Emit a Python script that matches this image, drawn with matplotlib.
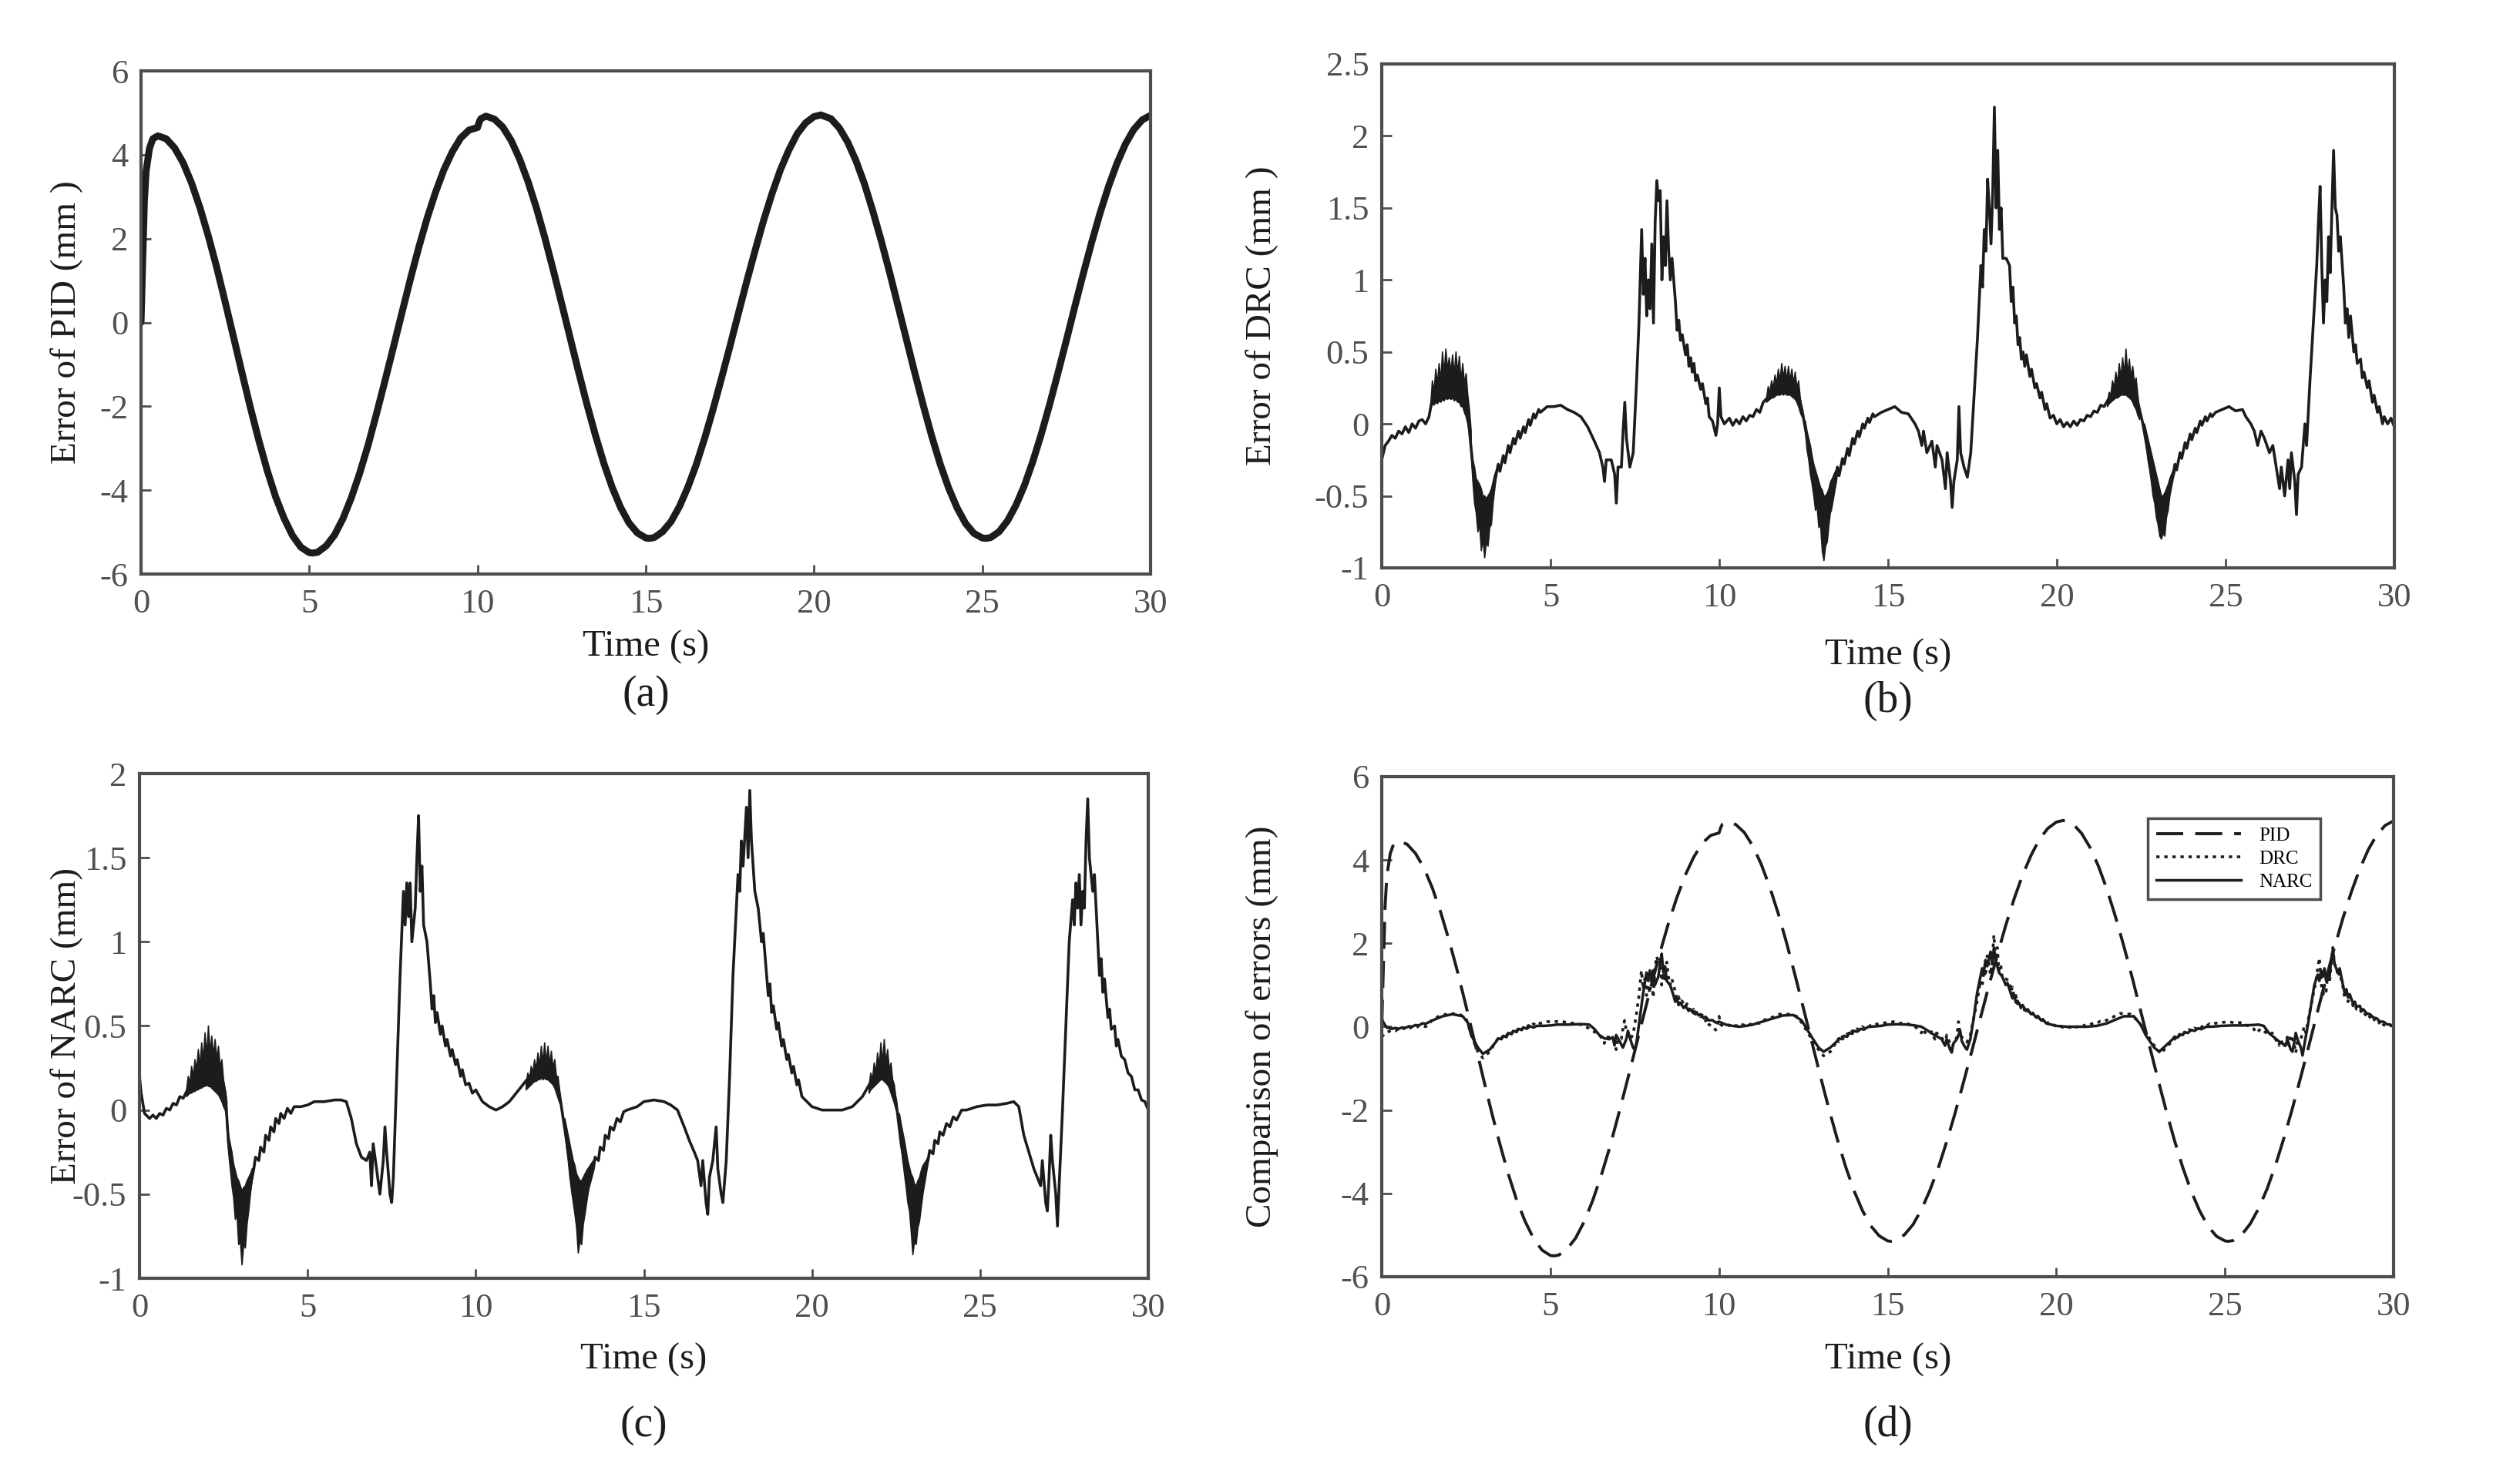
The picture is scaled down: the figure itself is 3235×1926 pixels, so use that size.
import matplotlib
matplotlib.use("Agg")
import matplotlib.pyplot as plt
import numpy as np

plt.rcParams["font.family"] = ["Liberation Serif", "DejaVu Serif"]
plt.rcParams["axes.unicode_minus"] = False

W, H = 3235, 1926

# ---- PID tracking error (mm) ----
pid_pts = [
    (0, 0), (0.05, 1.5), (0.1, 2.9), (0.15, 3.6), (0.25, 4.15), (0.35, 4.38), (0.5, 4.45),
    (0.75, 4.38), (1.0, 4.16), (1.25, 3.81), (1.5, 3.33), (1.75, 2.74), (2.0, 2.06),
    (2.25, 1.31), (2.5, 0.49), (2.75, -0.35), (3.0, -1.20), (3.25, -2.03), (3.5, -2.81),
    (3.75, -3.53), (4.0, -4.16), (4.25, -4.67), (4.5, -5.08), (4.75, -5.36), (5.0, -5.49),
    (5.1, -5.5), (5.25, -5.48), (5.5, -5.33), (5.75, -5.07), (6.0, -4.68), (6.25, -4.18),
    (6.5, -3.59), (6.75, -2.92), (7.0, -2.17), (7.25, -1.39), (7.5, -0.59), (7.75, 0.22),
    (8.0, 1.02), (8.25, 1.78), (8.5, 2.48), (8.75, 3.10), (9.0, 3.64), (9.25, 4.07),
    (9.5, 4.40), (9.75, 4.59), (10.0, 4.65), (10.05, 4.78), (10.1, 4.86), (10.25, 4.92),
    (10.5, 4.85), (10.75, 4.66), (11.0, 4.34), (11.25, 3.90), (11.5, 3.36), (11.75, 2.73),
    (12.0, 2.02), (12.25, 1.25), (12.5, 0.45), (12.75, -0.36), (13.0, -1.17), (13.25, -1.95),
    (13.5, -2.68), (13.75, -3.35), (14.0, -3.93), (14.25, -4.41), (14.5, -4.78), (14.75, -5.02),
    (15.0, -5.14), (15.1, -5.15), (15.25, -5.13), (15.5, -4.99), (15.75, -4.75), (16.0, -4.39),
    (16.25, -3.93), (16.5, -3.39), (16.75, -2.76), (17.0, -2.07), (17.25, -1.33), (17.5, -0.57),
    (17.75, 0.21), (18.0, 0.98), (18.25, 1.72), (18.5, 2.43), (18.75, 3.07), (19.0, 3.64),
    (19.25, 4.11), (19.5, 4.50), (19.75, 4.76), (20.0, 4.91), (20.2, 4.95), (20.5, 4.86),
    (20.75, 4.64), (21.0, 4.30), (21.25, 3.85), (21.5, 3.30), (21.75, 2.65), (22.0, 1.94),
    (22.25, 1.18), (22.5, 0.38), (22.75, -0.42), (23.0, -1.22), (23.25, -1.99), (23.5, -2.72),
    (23.75, -3.38), (24.0, -3.95), (24.25, -4.42), (24.5, -4.79), (24.75, -5.03), (25.0, -5.14),
    (25.1, -5.15), (25.25, -5.13), (25.5, -4.99), (25.75, -4.73), (26.0, -4.36), (26.25, -3.89),
    (26.5, -3.32), (26.75, -2.67), (27.0, -1.96), (27.25, -1.20), (27.5, -0.42), (27.75, 0.38),
    (28.0, 1.16), (28.25, 1.91), (28.5, 2.61), (28.75, 3.24), (29.0, 3.79), (29.25, 4.25),
    (29.5, 4.60), (29.75, 4.83), (30.0, 4.94),
]

# ---- DRC tracking error (mm), panel (b) ----
drc_pts = [
    (0, -0.25), (0.1, -0.15), (0.2, -0.12), (0.3, -0.08), (0.4, -0.1), (0.5, -0.05), (0.6, -0.07),
    (0.7, -0.02), (0.8, -0.06), (0.9, 0.0), (1.0, -0.03), (1.1, 0.02), (1.2, 0.03), (1.3, 0.0),
    (1.4, 0.05), (1.5, 0.18), (1.7, 0.25), (2.0, 0.32), (2.3, 0.3), (2.5, 0.2), (2.6, -0.05),
    (2.7, -0.3), (2.85, -0.6), (3.0, -0.75), (3.2, -0.6), (3.35, -0.4), (3.45, -0.28),
    (3.5, -0.33), (3.6, -0.22), (3.65, -0.27), (3.75, -0.15), (3.8, -0.2), (3.9, -0.1),
    (3.95, -0.14), (4.05, -0.05), (4.1, -0.1), (4.2, -0.02), (4.25, -0.06), (4.35, 0.03),
    (4.4, -0.01), (4.5, 0.07), (4.55, 0.04), (4.65, 0.1), (4.7, 0.08), (4.9, 0.12), (5.1, 0.12),
    (5.3, 0.13), (5.5, 0.1), (5.7, 0.08), (5.9, 0.05), (6.1, -0.02), (6.3, -0.12), (6.45, -0.2),
    (6.55, -0.3), (6.6, -0.4), (6.65, -0.25), (6.8, -0.25), (6.9, -0.35), (6.95, -0.55),
    (7.0, -0.3), (7.1, -0.3), (7.15, -0.05), (7.2, 0.15), (7.25, -0.1), (7.35, -0.3),
    (7.45, -0.2), (7.55, 0.3), (7.62, 0.7), (7.7, 1.35), (7.75, 0.9), (7.8, 1.15), (7.85, 0.75),
    (7.9, 1.0), (7.95, 0.8), (8.0, 1.25), (8.05, 0.7), (8.1, 1.4), (8.15, 1.69), (8.2, 1.55),
    (8.25, 1.62), (8.3, 1.0), (8.35, 1.3), (8.4, 1.1), (8.45, 1.55), (8.5, 1.2), (8.55, 1.0),
    (8.6, 1.15), (8.7, 0.85), (8.75, 0.65), (8.8, 0.72), (8.85, 0.58), (8.9, 0.62), (9.0, 0.48),
    (9.05, 0.55), (9.1, 0.4), (9.15, 0.46), (9.2, 0.36), (9.25, 0.42), (9.3, 0.3), (9.35, 0.34),
    (9.45, 0.24), (9.5, 0.28), (9.6, 0.14), (9.65, 0.18), (9.7, 0.05), (9.8, 0.02),
    (9.9, -0.08), (9.95, 0.0), (10.0, 0.25), (10.05, 0.05), (10.15, 0.0), (10.3, 0.04),
    (10.4, -0.01), (10.5, 0.03), (10.6, 0.0), (10.7, 0.05), (10.8, 0.02), (10.9, 0.06),
    (11.0, 0.05), (11.1, 0.1), (11.2, 0.08), (11.3, 0.15), (11.5, 0.2), (11.8, 0.3),
    (12.1, 0.3), (12.3, 0.25), (12.45, 0.1), (12.6, -0.1), (12.75, -0.3), (12.9, -0.5),
    (13.1, -0.7), (13.3, -0.6), (13.45, -0.4), (13.5, -0.3), (13.55, -0.36), (13.65, -0.24),
    (13.7, -0.28), (13.8, -0.17), (13.85, -0.22), (13.95, -0.1), (14.0, -0.14), (14.1, -0.05),
    (14.15, -0.09), (14.25, 0.0), (14.3, -0.03), (14.4, 0.04), (14.45, 0.01), (14.55, 0.07),
    (14.6, 0.05), (14.8, 0.08), (15.0, 0.1), (15.2, 0.12), (15.4, 0.08), (15.6, 0.07),
    (15.8, 0.0), (15.9, -0.05), (16.0, -0.15), (16.05, -0.05), (16.15, -0.2), (16.3, -0.12),
    (16.4, -0.3), (16.45, -0.15), (16.6, -0.25), (16.7, -0.45), (16.75, -0.2), (16.85, -0.4),
    (16.9, -0.58), (16.95, -0.4), (17.05, -0.25), (17.1, 0.12), (17.15, -0.2), (17.25, -0.3),
    (17.35, -0.37), (17.45, -0.2), (17.55, 0.2), (17.65, 0.6), (17.75, 1.1), (17.8, 0.95),
    (17.85, 1.35), (17.9, 1.2), (17.95, 1.7), (18.0, 1.5), (18.05, 1.25), (18.1, 1.6),
    (18.15, 2.2), (18.2, 1.5), (18.25, 1.9), (18.3, 1.35), (18.35, 1.5), (18.4, 1.15),
    (18.5, 1.15), (18.6, 1.1), (18.65, 0.85), (18.7, 0.95), (18.75, 0.7), (18.8, 0.75),
    (18.85, 0.55), (18.9, 0.6), (18.95, 0.45), (19.0, 0.5), (19.05, 0.4), (19.1, 0.48),
    (19.2, 0.33), (19.25, 0.38), (19.35, 0.25), (19.4, 0.28), (19.5, 0.18), (19.55, 0.22),
    (19.65, 0.1), (19.7, 0.14), (19.8, 0.04), (19.9, 0.06), (20.0, 0.0), (20.1, 0.03),
    (20.2, -0.02), (20.3, 0.01), (20.4, -0.02), (20.5, 0.02), (20.6, -0.01), (20.7, 0.03),
    (20.8, 0.02), (20.9, 0.06), (21.0, 0.05), (21.1, 0.09), (21.2, 0.08), (21.3, 0.13),
    (21.4, 0.12), (21.6, 0.2), (21.9, 0.32), (22.2, 0.3), (22.4, 0.15), (22.55, 0.0),
    (22.7, -0.2), (22.9, -0.45), (23.1, -0.65), (23.3, -0.45), (23.45, -0.35), (23.5, -0.28),
    (23.55, -0.32), (23.65, -0.2), (23.7, -0.24), (23.8, -0.13), (23.85, -0.17), (23.95, -0.07),
    (24.0, -0.11), (24.1, -0.03), (24.15, -0.06), (24.25, 0.02), (24.3, -0.01), (24.4, 0.05),
    (24.45, 0.02), (24.55, 0.07), (24.6, 0.05), (24.7, 0.08), (24.9, 0.1), (25.1, 0.12),
    (25.3, 0.09), (25.5, 0.1), (25.6, 0.05), (25.75, 0.0), (25.85, -0.05), (25.95, -0.15),
    (26.05, -0.05), (26.15, -0.1), (26.3, -0.2), (26.4, -0.15), (26.5, -0.3), (26.6, -0.45),
    (26.65, -0.3), (26.75, -0.5), (26.85, -0.25), (26.9, -0.45), (26.95, -0.2), (27.05, -0.4),
    (27.1, -0.63), (27.15, -0.35), (27.25, -0.3), (27.35, 0.0), (27.4, -0.15), (27.5, 0.3),
    (27.6, 0.7), (27.7, 1.1), (27.75, 1.4), (27.8, 1.65), (27.85, 1.1), (27.9, 0.7),
    (27.95, 1.0), (28.0, 0.85), (28.05, 1.3), (28.1, 1.05), (28.15, 1.5), (28.2, 1.9),
    (28.25, 1.5), (28.3, 1.45), (28.35, 1.2), (28.4, 1.3), (28.5, 0.95), (28.55, 0.7),
    (28.6, 0.8), (28.65, 0.6), (28.7, 0.75), (28.8, 0.5), (28.85, 0.55), (28.9, 0.42),
    (29.0, 0.45), (29.05, 0.32), (29.1, 0.36), (29.2, 0.25), (29.25, 0.3), (29.35, 0.15),
    (29.4, 0.2), (29.5, 0.08), (29.55, 0.12), (29.65, 0.0), (29.7, 0.05), (29.8, 0.0),
    (29.9, 0.04), (30.0, -0.02),
]

# dense chatter bands of DRC: (t, low, high); nan rows separate the bands
nan = np.nan
drc_band = [
    (1.45, 0.1, 0.12), (1.5, 0.14, 0.3), (1.55, 0.13, 0.22), (1.6, 0.15, 0.38), (1.65, 0.14, 0.28),
    (1.7, 0.16, 0.42), (1.75, 0.15, 0.3), (1.8, 0.17, 0.5), (1.85, 0.16, 0.35), (1.9, 0.18, 0.52),
    (1.95, 0.17, 0.38), (2.0, 0.18, 0.46), (2.05, 0.17, 0.36), (2.1, 0.18, 0.48), (2.15, 0.16, 0.34),
    (2.2, 0.17, 0.5), (2.25, 0.15, 0.35), (2.3, 0.15, 0.47), (2.35, 0.12, 0.3), (2.4, 0.12, 0.42),
    (2.45, 0.08, 0.28), (2.5, 0.05, 0.35), (2.55, 0.0, 0.2), (2.6, -0.08, 0.1), (2.65, -0.15, -0.05),
    (nan, nan, nan),
    (2.65, -0.2, -0.15), (2.7, -0.4, -0.25), (2.75, -0.55, -0.3), (2.8, -0.62, -0.38),
    (2.85, -0.75, -0.4), (2.9, -0.7, -0.42), (2.95, -0.88, -0.45), (3.0, -0.8, -0.5),
    (3.05, -0.93, -0.5), (3.1, -0.82, -0.52), (3.15, -0.85, -0.5), (3.2, -0.72, -0.48),
    (3.25, -0.7, -0.45), (3.3, -0.55, -0.4), (3.35, -0.45, -0.35), (3.4, -0.35, -0.32),
    (nan, nan, nan),
    (11.4, 0.15, 0.18), (11.45, 0.16, 0.26), (11.5, 0.17, 0.22), (11.55, 0.18, 0.3),
    (11.6, 0.18, 0.25), (11.65, 0.19, 0.34), (11.7, 0.2, 0.28), (11.75, 0.2, 0.38),
    (11.8, 0.2, 0.3), (11.85, 0.21, 0.42), (11.9, 0.2, 0.32), (11.95, 0.21, 0.4), (12.0, 0.2, 0.3),
    (12.05, 0.2, 0.4), (12.1, 0.2, 0.3), (12.15, 0.19, 0.38), (12.2, 0.18, 0.28),
    (12.25, 0.17, 0.36), (12.3, 0.15, 0.25), (12.35, 0.12, 0.3), (12.4, 0.08, 0.18),
    (12.45, 0.05, 0.1),
    (nan, nan, nan),
    (12.55, -0.05, 0.02), (12.6, -0.18, -0.05), (12.65, -0.25, -0.1), (12.7, -0.35, -0.15),
    (12.75, -0.42, -0.22), (12.8, -0.5, -0.28), (12.85, -0.6, -0.32), (12.9, -0.58, -0.36),
    (12.95, -0.72, -0.4), (13.0, -0.7, -0.44), (13.05, -0.88, -0.46), (13.1, -0.95, -0.5),
    (13.15, -0.85, -0.5), (13.2, -0.82, -0.48), (13.25, -0.7, -0.45), (13.3, -0.6, -0.4),
    (13.35, -0.55, -0.38), (13.4, -0.45, -0.35), (13.5, -0.32, -0.3),
    (nan, nan, nan),
    (21.5, 0.12, 0.15), (21.55, 0.14, 0.22), (21.6, 0.15, 0.2), (21.65, 0.16, 0.3),
    (21.7, 0.17, 0.25), (21.75, 0.18, 0.36), (21.8, 0.18, 0.28), (21.85, 0.19, 0.42),
    (21.9, 0.2, 0.32), (21.95, 0.2, 0.46), (22.0, 0.2, 0.34), (22.05, 0.2, 0.52),
    (22.1, 0.19, 0.35), (22.15, 0.18, 0.45), (22.2, 0.17, 0.32), (22.25, 0.15, 0.4),
    (22.3, 0.12, 0.28), (22.35, 0.1, 0.32), (22.4, 0.06, 0.2), (22.45, 0.03, 0.1),
    (nan, nan, nan),
    (22.6, -0.05, 0.0), (22.65, -0.15, -0.05), (22.7, -0.25, -0.1), (22.75, -0.32, -0.15),
    (22.8, -0.4, -0.2), (22.85, -0.5, -0.25), (22.9, -0.55, -0.3), (22.95, -0.65, -0.35),
    (23.0, -0.7, -0.4), (23.05, -0.78, -0.45), (23.1, -0.8, -0.5), (23.15, -0.76, -0.5),
    (23.2, -0.78, -0.48), (23.25, -0.65, -0.45), (23.3, -0.6, -0.42), (23.35, -0.5, -0.38),
    (23.45, -0.38, -0.32), (23.5, -0.33, -0.3),
]

# ---- NARC tracking error (mm), panel (c) ----
narc_pts = [
    (0, 0.2), (0.05, 0.1), (0.15, -0.02), (0.3, -0.05), (0.4, -0.03), (0.5, -0.05), (0.6, -0.02),
    (0.7, -0.03), (0.8, 0.01), (0.9, 0.0), (1.0, 0.04), (1.1, 0.03), (1.2, 0.08), (1.3, 0.07),
    (1.5, 0.15), (1.8, 0.25), (2.1, 0.3), (2.4, 0.25), (2.55, 0.1), (2.65, -0.2), (2.85, -0.5),
    (3.0, -0.65), (3.2, -0.55), (3.4, -0.35), (3.45, -0.28), (3.55, -0.3), (3.6, -0.22),
    (3.7, -0.25), (3.75, -0.15), (3.85, -0.18), (3.9, -0.1), (4.0, -0.13), (4.05, -0.05),
    (4.15, -0.08), (4.2, -0.02), (4.3, -0.05), (4.4, 0.01), (4.5, -0.02), (4.6, 0.02),
    (4.8, 0.02), (5.0, 0.03), (5.2, 0.05), (5.5, 0.05), (5.8, 0.06), (6.0, 0.06), (6.15, 0.05),
    (6.3, -0.05), (6.45, -0.2), (6.6, -0.28), (6.75, -0.3), (6.85, -0.25), (6.9, -0.45),
    (6.95, -0.2), (7.05, -0.35), (7.15, -0.5), (7.25, -0.3), (7.3, -0.1), (7.35, -0.25),
    (7.45, -0.5), (7.5, -0.55), (7.55, -0.4), (7.65, 0.2), (7.75, 0.8), (7.85, 1.3), (7.9, 1.1),
    (7.95, 1.35), (8.0, 1.15), (8.05, 1.35), (8.1, 1.0), (8.2, 1.2), (8.25, 1.5), (8.3, 1.75),
    (8.35, 1.3), (8.4, 1.45), (8.45, 1.1), (8.55, 1.0), (8.65, 0.75), (8.7, 0.6), (8.75, 0.68),
    (8.8, 0.52), (8.85, 0.58), (8.95, 0.45), (9.0, 0.5), (9.1, 0.38), (9.15, 0.42), (9.25, 0.32),
    (9.3, 0.36), (9.4, 0.27), (9.45, 0.3), (9.55, 0.2), (9.6, 0.24), (9.7, 0.15), (9.8, 0.16),
    (9.9, 0.1), (10.0, 0.12), (10.2, 0.05), (10.4, 0.02), (10.6, 0.0), (10.8, 0.02),
    (11.0, 0.05), (11.2, 0.1), (11.4, 0.15), (11.6, 0.2), (11.9, 0.27), (12.2, 0.28),
    (12.45, 0.15), (12.6, -0.05), (12.75, -0.25), (12.95, -0.5), (13.1, -0.6), (13.3, -0.5),
    (13.5, -0.35), (13.55, -0.28), (13.65, -0.3), (13.7, -0.22), (13.8, -0.24), (13.85, -0.15),
    (13.95, -0.17), (14.0, -0.1), (14.1, -0.12), (14.2, -0.05), (14.3, -0.07), (14.4, -0.01),
    (14.5, 0.0), (14.8, 0.02), (15.0, 0.05), (15.3, 0.06), (15.6, 0.05), (15.8, 0.03),
    (16.0, 0.0), (16.2, -0.1), (16.35, -0.18), (16.5, -0.25), (16.6, -0.3), (16.7, -0.45),
    (16.75, -0.3), (16.85, -0.55), (16.9, -0.62), (16.95, -0.4), (17.05, -0.3), (17.15, -0.1),
    (17.2, -0.35), (17.3, -0.5), (17.35, -0.55), (17.45, -0.3), (17.55, 0.2), (17.65, 0.8),
    (17.75, 1.2), (17.8, 1.4), (17.85, 1.3), (17.9, 1.6), (17.95, 1.45), (18.05, 1.8),
    (18.1, 1.5), (18.15, 1.9), (18.2, 1.6), (18.3, 1.3), (18.4, 1.2), (18.5, 1.0),
    (18.55, 1.05), (18.65, 0.8), (18.7, 0.68), (18.75, 0.75), (18.8, 0.58), (18.85, 0.62),
    (18.95, 0.48), (19.0, 0.52), (19.1, 0.38), (19.15, 0.42), (19.25, 0.3), (19.3, 0.33),
    (19.4, 0.22), (19.45, 0.26), (19.55, 0.15), (19.6, 0.18), (19.7, 0.08), (19.8, 0.06),
    (20.0, 0.02), (20.3, 0.0), (20.6, 0.0), (20.9, 0.0), (21.2, 0.02), (21.5, 0.08),
    (21.7, 0.15), (22.0, 0.25), (22.3, 0.25), (22.5, 0.05), (22.65, -0.2), (22.9, -0.5),
    (23.05, -0.6), (23.25, -0.45), (23.45, -0.3), (23.5, -0.24), (23.6, -0.26), (23.65, -0.18),
    (23.75, -0.2), (23.8, -0.13), (23.9, -0.15), (24.0, -0.08), (24.1, -0.1), (24.2, -0.04),
    (24.3, -0.06), (24.45, 0.0), (24.6, 0.0), (24.9, 0.02), (25.2, 0.03), (25.5, 0.03),
    (25.8, 0.04), (26.0, 0.05), (26.15, 0.02), (26.3, -0.15), (26.45, -0.25), (26.6, -0.35),
    (26.7, -0.4), (26.8, -0.45), (26.85, -0.3), (26.95, -0.55), (27.0, -0.6), (27.05, -0.4),
    (27.1, -0.15), (27.15, -0.3), (27.25, -0.5), (27.3, -0.69), (27.35, -0.45), (27.45, 0.0),
    (27.55, 0.5), (27.65, 1.0), (27.75, 1.25), (27.8, 1.1), (27.85, 1.35), (27.9, 1.2),
    (27.95, 1.4), (28.0, 1.1), (28.05, 1.3), (28.1, 1.2), (28.15, 1.6), (28.2, 1.85),
    (28.25, 1.5), (28.35, 1.3), (28.4, 1.4), (28.5, 1.0), (28.55, 0.8), (28.6, 0.9),
    (28.65, 0.7), (28.7, 0.78), (28.8, 0.55), (28.85, 0.6), (28.9, 0.48), (29.0, 0.5),
    (29.05, 0.38), (29.1, 0.42), (29.2, 0.32), (29.3, 0.3), (29.4, 0.22), (29.5, 0.2),
    (29.6, 0.12), (29.7, 0.12), (29.8, 0.06), (29.9, 0.05), (30.0, 0.0),
]

narc_band = [
    (1.4, 0.08, 0.12), (1.45, 0.09, 0.2), (1.5, 0.1, 0.16), (1.55, 0.1, 0.26), (1.6, 0.11, 0.2),
    (1.65, 0.11, 0.3), (1.7, 0.12, 0.24), (1.75, 0.12, 0.36), (1.8, 0.13, 0.26), (1.85, 0.13, 0.4),
    (1.9, 0.14, 0.3), (1.95, 0.14, 0.46), (2.0, 0.15, 0.32), (2.05, 0.14, 0.5), (2.1, 0.14, 0.34),
    (2.15, 0.13, 0.44), (2.2, 0.12, 0.32), (2.25, 0.11, 0.42), (2.3, 0.1, 0.3), (2.35, 0.09, 0.38),
    (2.4, 0.07, 0.25), (2.45, 0.05, 0.3), (2.5, 0.02, 0.18), (2.55, 0.0, 0.12), (2.6, -0.05, 0.05),
    (nan, nan, nan),
    (2.6, -0.1, -0.08), (2.65, -0.25, -0.15), (2.7, -0.35, -0.2), (2.75, -0.45, -0.25),
    (2.8, -0.52, -0.32), (2.85, -0.65, -0.36), (2.9, -0.62, -0.4), (2.95, -0.8, -0.42),
    (3.0, -0.78, -0.45), (3.05, -0.92, -0.48), (3.1, -0.8, -0.46), (3.15, -0.82, -0.45),
    (3.2, -0.68, -0.42), (3.25, -0.6, -0.4), (3.3, -0.5, -0.38), (3.35, -0.42, -0.35),
    (3.4, -0.36, -0.34),
    (nan, nan, nan),
    (11.5, 0.12, 0.15), (11.55, 0.13, 0.22), (11.6, 0.14, 0.18), (11.65, 0.15, 0.26),
    (11.7, 0.16, 0.22), (11.75, 0.17, 0.3), (11.8, 0.17, 0.24), (11.85, 0.18, 0.34),
    (11.9, 0.18, 0.26), (11.95, 0.19, 0.38), (12.0, 0.18, 0.28), (12.05, 0.19, 0.4),
    (12.1, 0.18, 0.28), (12.15, 0.18, 0.38), (12.2, 0.17, 0.27), (12.25, 0.16, 0.35),
    (12.3, 0.15, 0.25), (12.35, 0.13, 0.3), (12.4, 0.1, 0.2), (12.45, 0.07, 0.2), (12.5, 0.04, 0.1),
    (nan, nan, nan),
    (12.65, -0.12, -0.05), (12.7, -0.22, -0.1), (12.75, -0.3, -0.15), (12.8, -0.4, -0.2),
    (12.85, -0.48, -0.25), (12.9, -0.55, -0.3), (12.95, -0.62, -0.33), (13.0, -0.7, -0.38),
    (13.05, -0.85, -0.4), (13.1, -0.78, -0.42), (13.15, -0.8, -0.42), (13.2, -0.68, -0.4),
    (13.25, -0.62, -0.38), (13.3, -0.55, -0.36), (13.4, -0.42, -0.33), (13.5, -0.33, -0.3),
    (nan, nan, nan),
    (21.7, 0.1, 0.15), (21.75, 0.12, 0.22), (21.8, 0.13, 0.18), (21.85, 0.14, 0.28),
    (21.9, 0.15, 0.22), (21.95, 0.16, 0.34), (22.0, 0.17, 0.26), (22.05, 0.18, 0.4),
    (22.1, 0.18, 0.28), (22.15, 0.17, 0.42), (22.2, 0.16, 0.28), (22.25, 0.15, 0.36),
    (22.3, 0.13, 0.24), (22.35, 0.1, 0.28), (22.4, 0.07, 0.18), (22.45, 0.04, 0.15),
    (22.5, 0.0, 0.06),
    (nan, nan, nan),
    (22.6, -0.1, -0.02), (22.65, -0.2, -0.08), (22.7, -0.3, -0.13), (22.75, -0.38, -0.18),
    (22.8, -0.46, -0.24), (22.85, -0.55, -0.3), (22.9, -0.6, -0.34), (22.95, -0.72, -0.38),
    (23.0, -0.86, -0.4), (23.05, -0.78, -0.44), (23.1, -0.8, -0.45), (23.15, -0.7, -0.42),
    (23.2, -0.66, -0.4), (23.25, -0.58, -0.36), (23.3, -0.5, -0.33), (23.4, -0.38, -0.3),
    (23.45, -0.32, -0.28),
]

x_ticks = [0, 5, 10, 15, 20, 25, 30]
pid_yticks = [-6, -4, -2, 0, 2, 4, 6]
drc_yticks = [-1, -0.5, 0, 0.5, 1, 1.5, 2, 2.5]
narc_yticks = [-1, -0.5, 0, 0.5, 1, 1.5, 2]
legend_labels = ["PID", "DRC", "NARC"]

pid_t, pid_v = np.array(pid_pts).T
drc_t, drc_v = np.array(drc_pts).T
narc_t, narc_v = np.array(narc_pts).T
drc_bt, drc_blo, drc_bhi = np.array(drc_band).T
narc_bt, narc_blo, narc_bhi = np.array(narc_band).T

SPINE = "#4d4d4d"
TICKC = "#505050"
INK = "#1c1c1c"


def px_axes(fig, left, right, top, bottom):
    return fig.add_axes([left / W, (H - bottom) / H, (right - left) / W, (bottom - top) / H])


def style(ax, yticks, ylim):
    ax.set_xlim(0, 30)
    ax.set_ylim(*ylim)
    ax.set_xticks(x_ticks)
    ax.set_yticks(yticks)
    ax.set_xticklabels([f"{v:g}" for v in x_ticks])
    ax.set_yticklabels([f"{v:g}" for v in yticks])
    for s in ax.spines.values():
        s.set_color(SPINE)
        s.set_linewidth(3)
    ax.tick_params(direction="in", length=9, width=2, color=SPINE,
                   labelsize=32, labelcolor=TICKC, top=False, right=False)
    ax.tick_params(axis="x", pad=14)
    ax.tick_params(axis="y", pad=12)


def ftext(x, y, s, size, **kw):
    fig.text(x / W, 1 - y / H, s, fontsize=size, color=INK, ha="center", va="center", **kw)


fig = plt.figure(figsize=(W / 100, H / 100), dpi=100)

# (a)
ax_a = px_axes(fig, 183, 1493, 92, 745)
ax_a.plot(pid_t, pid_v, color=INK, lw=6.5, solid_capstyle="round", solid_joinstyle="round")
style(ax_a, pid_yticks, (-6, 6))
ftext(87, 418, "Error of PID (mm )", 34, rotation=90)
ftext(838, 840, "Time (s)", 35)
ftext(838, 902, "(a)", 40)

# (b)
ax_b = px_axes(fig, 1793, 3107, 83, 737)
ax_b.fill_between(drc_bt, drc_blo, drc_bhi, color=INK, lw=1.2, edgecolor=INK)
ax_b.plot(drc_t, drc_v, color=INK, lw=2.6)
style(ax_b, drc_yticks, (-1, 2.5))
ftext(1638, 410, "Error of DRC (mm )", 34, rotation=90)
ftext(2450, 851, "Time (s)", 35)
ftext(2450, 910, "(b)", 40)

# (c)
ax_c = px_axes(fig, 181, 1490, 1004, 1659)
ax_c.fill_between(narc_bt, narc_blo, narc_bhi, color=INK, lw=1.2, edgecolor=INK)
ax_c.plot(narc_t, narc_v, color=INK, lw=2.6)
style(ax_c, narc_yticks, (-1, 2))
ftext(87, 1331, "Error of NARC (mm)", 34, rotation=90)
ftext(835, 1765, "Time (s)", 35)
ftext(835, 1850, "(c)", 40)

# (d)
ax_d = px_axes(fig, 1793, 3106, 1008, 1657)
ax_d.plot(pid_t, pid_v, color=INK, lw=2.8, dashes=(9, 4), label=legend_labels[0])
ax_d.plot(drc_t, drc_v, color=INK, lw=2.6, linestyle=(0, (1.2, 1.7)), label=legend_labels[1])
ax_d.plot(narc_t, narc_v, color=INK, lw=2.5, label=legend_labels[2])
style(ax_d, pid_yticks, (-6, 6))
leg = ax_d.legend(loc="upper right", bbox_to_anchor=(0.928, 0.917), borderaxespad=0,
                  fontsize=18, handlelength=4.4, handletextpad=0.9, labelspacing=0.3,
                  borderpad=0.45, fancybox=False, framealpha=1)
leg.get_frame().set_edgecolor(SPINE)
leg.get_frame().set_linewidth(2.5)
ftext(1638, 1332, "Comparison of errors (mm)", 34, rotation=90)
ftext(2450, 1765, "Time (s)", 35)
ftext(2450, 1850, "(d)", 40)

fig.savefig("out.png", dpi=100, facecolor="white")
